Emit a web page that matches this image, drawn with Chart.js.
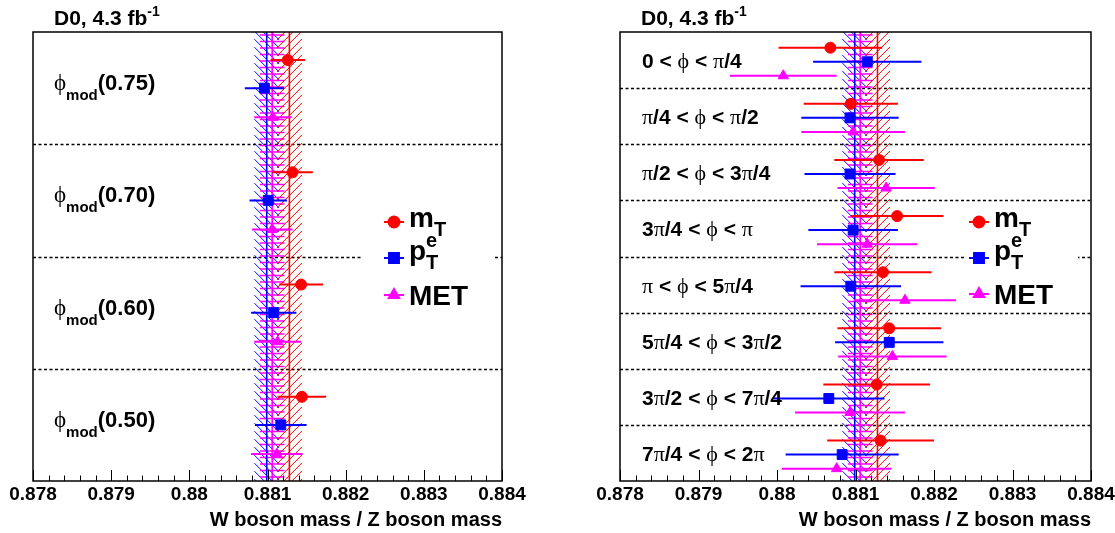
<!DOCTYPE html>
<html lang="en">
<head>
<meta charset="UTF-8">
<title>W/Z mass ratio</title>
<style>
  body { margin: 0; background: #fff; }
  canvas { position: absolute; top: 0; }
</style>
</head>
<body>
<canvas id="leftChart" width="557" height="533" style="left:0"></canvas>
<canvas id="rightChart" width="558" height="533" style="left:557px"></canvas>

<script src="https://cdn.jsdelivr.net/npm/chart.js"></script>
<script>
// ---- data ----
const xTicks = [0.878, 0.879, 0.880, 0.881, 0.882, 0.883, 0.884];

// combined results (vertical bands): mT, pT, MET
const bandCenters = [0.88128, 0.88099, 0.88106];
const bandHalfWidths = [0.00016, 0.00016, 0.00016];

// left panel: phi_mod cuts
const phiModLabels = ['0.75', '0.70', '0.60', '0.50'];
const leftMt     = [0.88126, 0.88132, 0.88143, 0.88144];
const leftMtErr  = [0.00022, 0.00026, 0.00028, 0.00031];
const leftPt     = [0.88096, 0.88101, 0.88108, 0.88117];
const leftPtErr  = [0.00025, 0.00024, 0.00029, 0.00033];
const leftMet    = [0.88107, 0.88106, 0.88113, 0.88112];
const leftMetErr = [0.00024, 0.00026, 0.00030, 0.00033];

// right panel: phi bins
const phiBinLabels = ['0 < ϕ < π/4', 'π/4 < ϕ < π/2', 'π/2 < ϕ < 3π/4', '3π/4 < ϕ < π',
                      'π < ϕ < 5π/4', '5π/4 < ϕ < 3π/2', '3π/2 < ϕ < 7π/4', '7π/4 < ϕ < 2π'];
const rightMt     = [0.88068, 0.88094, 0.88130, 0.88153, 0.88135, 0.88143, 0.88127, 0.88132];
const rightMtErr  = [0.00066, 0.00060, 0.00057, 0.00059, 0.00062, 0.00066, 0.00068, 0.00068];
const rightPt     = [0.88115, 0.88093, 0.88093, 0.88097, 0.88094, 0.88143, 0.88066, 0.88083];
const rightPtErr  = [0.00069, 0.00062, 0.00058, 0.00057, 0.00064, 0.00069, 0.00071, 0.00072];
const rightMet    = [0.88008, 0.88097, 0.88139, 0.88115, 0.88163, 0.88147, 0.88093, 0.88076];
const rightMetErr = [0.00068, 0.00066, 0.00062, 0.00064, 0.00065, 0.00069, 0.00070, 0.00070];

// ---- styles ----
const RED = '#ff0000', BLUE = '#0000ff', MAGENTA = '#ff00ff';
const SANS = "'Liberation Sans', Arial, sans-serif";
const SERIF = "'Liberation Serif', 'DejaVu Serif', serif";
const bold = px => `bold ${px}px ${SANS}`;
const serif = px => `${px}px ${SERIF}`;

// draw a row of text pieces with different fonts / offsets
function drawRuns(ctx, x, y, runs) {
  let cx = x;
  ctx.fillStyle = '#000';
  ctx.textAlign = 'left';
  ctx.textBaseline = 'alphabetic';
  for (const r of runs) {
    ctx.font = r.font;
    ctx.fillText(r.t, cx, y + (r.dy || 0));
    if (!r.stay) cx += ctx.measureText(r.t).width;
  }
}

// greek letters in serif, rest in bold sans
function mixedRuns(str, px) {
  const runs = [];
  for (const ch of str) {
    const font = 'ϕπ'.includes(ch) ? serif(px + 1) : bold(px);
    const last = runs[runs.length - 1];
    if (last && last.font === font) last.t += ch;
    else runs.push({ t: ch, font });
  }
  return runs;
}

function drawHatch(ctx, a, x0, x1, kind, color) {
  ctx.save();
  ctx.beginPath();
  ctx.rect(x0, a.top, x1 - x0, a.height);
  ctx.clip();
  ctx.strokeStyle = color;
  const w = x1 - x0;
  if (kind === 'horiz') {
    ctx.lineWidth = 1.6;
    for (let yy = a.top + 3; yy < a.bottom; yy += 6.5) {
      ctx.beginPath(); ctx.moveTo(x0, yy); ctx.lineTo(x1, yy); ctx.stroke();
    }
  } else {
    ctx.lineWidth = 1;
    for (let k = -w; k < a.height + w; k += 8) {
      ctx.beginPath();
      if (kind === 'back') { ctx.moveTo(x0, a.top + k); ctx.lineTo(x1, a.top + k + w); }
      else { ctx.moveTo(x0, a.top + k + w); ctx.lineTo(x1, a.top + k); }
      ctx.stroke();
    }
  }
  ctx.restore();
}

function panelPlugin(cfg) {
  return {
    id: 'panel',
    beforeDatasetsDraw(chart) {
      const { ctx, chartArea: a, scales: { x, y } } = chart;
      ctx.save();
      ctx.beginPath(); ctx.rect(a.left, a.top, a.width, a.height); ctx.clip();

      // dashed separators
      ctx.strokeStyle = '#000'; ctx.lineWidth = 1.3; ctx.setLineDash([3, 2.5]);
      for (let i = 1; i < cfg.n; i++) {
        const py = Math.round(y.getPixelForValue(i)) + 0.5;
        ctx.beginPath(); ctx.moveTo(a.left, py); ctx.lineTo(a.right, py); ctx.stroke();
      }
      ctx.setLineDash([]);

      // combined-result bands: blue (pT), magenta (MET), red (mT)
      const bands = [
        { i: 1, kind: 'back', color: BLUE },
        { i: 2, kind: 'horiz', color: MAGENTA },
        { i: 0, kind: 'fwd', color: RED }
      ];
      for (const b of bands) {
        const c = bandCenters[b.i], h = bandHalfWidths[b.i];
        drawHatch(ctx, a, x.getPixelForValue(c - h), x.getPixelForValue(c + h), b.kind, b.color);
      }
      for (const b of bands) {
        const px = x.getPixelForValue(bandCenters[b.i]);
        ctx.strokeStyle = b.color; ctx.lineWidth = 1.6;
        ctx.beginPath(); ctx.moveTo(px, a.top); ctx.lineTo(px, a.bottom); ctx.stroke();
      }

      // horizontal error bars
      chart.data.datasets.forEach(ds => {
        ctx.strokeStyle = ds.borderColor; ctx.lineWidth = 2;
        ds.data.forEach((p, j) => {
          const e = ds.errors[j];
          const py = y.getPixelForValue(p.y);
          ctx.beginPath();
          ctx.moveTo(x.getPixelForValue(p.x - e), py);
          ctx.lineTo(x.getPixelForValue(p.x + e), py);
          ctx.stroke();
        });
      });
      ctx.restore();
    },
    afterDatasetsDraw(chart) {
      const { ctx, chartArea: a, scales: { x, y } } = chart;
      ctx.save();

      // axis ticks pointing inwards
      ctx.strokeStyle = '#000'; ctx.lineWidth = 1;
      for (let k = 0; k <= 30; k++) {
        const px = Math.round(x.getPixelForValue(xTicks[0] + k * 0.0002)) + 0.5;
        const len = k % 5 === 0 ? 11 : 5.5;
        ctx.beginPath(); ctx.moveTo(px, a.bottom); ctx.lineTo(px, a.bottom - len); ctx.stroke();
      }

      // frame
      ctx.lineWidth = 1.5;
      ctx.strokeRect(a.left, a.top, a.width, a.height);

      // header
      drawRuns(ctx, a.left + 21, 25, [
        { t: 'D0, 4.3 fb', font: bold(21) },
        { t: '-1', font: bold(14), dy: -9 }
      ]);

      // category labels
      for (let i = 0; i < cfg.n; i++) {
        const cy = y.getPixelForValue(i + 0.5);
        drawRuns(ctx, a.left + cfg.labelDx, cy + cfg.labelDy, cfg.labelRuns(i));
      }

      // legend
      const L = cfg.legend;
      ctx.fillStyle = '#fff';
      ctx.fillRect(L.left, L.top, L.right - L.left, L.bottom - L.top);
      const rows = [
        [{ t: 'm', font: bold(28) }, { t: 'T', font: bold(20), dy: 9 }],
        [{ t: 'p', font: bold(28) }, { t: 'e', font: bold(20), dy: -13, stay: true }, { t: 'T', font: bold(20), dy: 9 }],
        [{ t: 'MET', font: bold(28) }]
      ];
      const baseDy = [5, 2, 10];
      chart.data.datasets.forEach((ds, k) => {
        const ry = L.rows[k];
        ctx.strokeStyle = ds.borderColor; ctx.fillStyle = ds.backgroundColor; ctx.lineWidth = 2;
        ctx.beginPath(); ctx.moveTo(L.marker - 10, ry); ctx.lineTo(L.marker + 10, ry); ctx.stroke();
        Chart.helpers.drawPoint(ctx, { pointStyle: ds.pointStyle, radius: ds.pointRadius, rotation: 0, borderWidth: 1 }, L.marker, ry);
        ctx.fill();
        drawRuns(ctx, L.text, ry + baseDy[k], rows[k]);
      });
      ctx.restore();
    }
  };
}

function makePanel(id, vals, pos, cfg, pad) {
  const pts = (v, off) => v.map((xv, i) => ({ x: xv, y: i + off }));
  const series = [
    { label: 'mT', v: vals[0], e: vals[1], color: RED, style: 'circle', r: 5.5 },
    { label: 'pT', v: vals[2], e: vals[3], color: BLUE, style: 'rect', r: 7 },
    { label: 'MET', v: vals[4], e: vals[5], color: MAGENTA, style: 'triangle', r: 6 }
  ];
  return new Chart(document.getElementById(id), {
    type: 'scatter',
    data: {
      datasets: series.map((s, k) => ({
        label: s.label,
        data: pts(s.v, pos[k]),
        errors: s.e,
        backgroundColor: s.color,
        borderColor: s.color,
        borderWidth: 1,
        pointStyle: s.style,
        pointRadius: s.r,
        pointHoverRadius: s.r
      }))
    },
    options: {
      responsive: false,
      animation: false,
      events: [],
      layout: { padding: { left: pad.left, right: pad.right, top: 32, bottom: 1 } },
      plugins: { legend: { display: false }, tooltip: { enabled: false } },
      scales: {
        x: {
          type: 'linear', min: 0.878, max: 0.884,
          afterBuildTicks: s => { s.ticks = xTicks.map(v => ({ value: v })); },
          afterFit: s => { s.paddingLeft = 0; s.paddingRight = 0; },
          grid: { display: false, drawTicks: false, tickLength: 0 },
          border: { display: false },
          ticks: {
            color: '#000', padding: 4, autoSkip: false, maxRotation: 0,
            font: { family: SANS, weight: 'bold', size: 19, lineHeight: 1 },
            callback: v => String(parseFloat(v.toFixed(3)))
          },
          title: {
            display: true, align: 'end', text: 'W boson mass / Z boson mass', color: '#000',
            font: { family: SANS, weight: 'bold', size: 20, lineHeight: 1.2 },
            padding: { top: 0, bottom: 0 }
          }
        },
        y: { type: 'linear', min: 0, max: cfg.n, reverse: true, display: false }
      }
    },
    plugins: [panelPlugin(cfg)]
  });
}

makePanel('leftChart',
  [leftMt, leftMtErr, leftPt, leftPtErr, leftMet, leftMetErr],
  [0.25, 0.5, 0.76],
  {
    n: phiModLabels.length, labelDx: 21, labelDy: 2,
    labelRuns: i => [
      { t: 'ϕ', font: serif(23) },
      { t: 'mod', font: bold(15), dy: 10 },
      { t: '(' + phiModLabels[i] + ')', font: bold(22) }
    ],
    legend: { left: 362, right: 493, top: 204, bottom: 312, marker: 394, text: 409, rows: [222, 258, 295] }
  },
  { left: 33, right: 55 });

makePanel('rightChart',
  [rightMt, rightMtErr, rightPt, rightPtErr, rightMet, rightMetErr],
  [0.28, 0.53, 0.78],
  {
    n: phiBinLabels.length, labelDx: 22, labelDy: 8,
    labelRuns: i => mixedRuns(phiBinLabels[i], 21),
    legend: { left: 408, right: 521, top: 204, bottom: 312, marker: 422, text: 437, rows: [222, 258, 294] }
  },
  { left: 63, right: 24 });
</script>
</body>
</html>
